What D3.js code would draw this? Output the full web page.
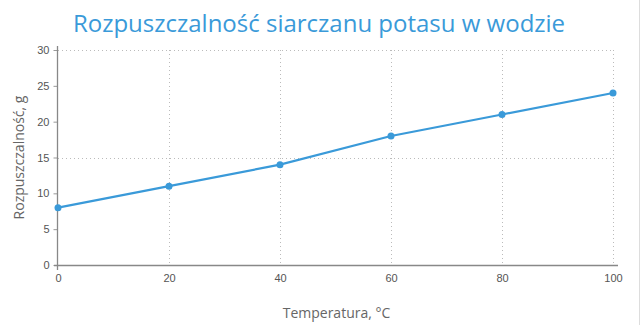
<!DOCTYPE html>
<html>
<head>
	<script src="https://cdn.jsdelivr.net/npm/d3@7"></script>
	<style>
		html, body { margin: 0; padding: 0; background: #fff; }
		svg { font-family: "Open Sans", sans-serif; display: block; }
	</style>
</head>
<body>
	<div id="chart"></div>
	<script>
		var temps = [0, 20, 40, 60, 80, 100];
		var solub = [8, 11, 14, 18, 21, 24];
		var yTicks = [0, 5, 10, 15, 20, 25, 30];
		var yGrid = [15, 30];
		var xGrid = [20, 40, 60, 80, 100];

		var width = 640, height = 325;
		var blue = "#3a9ad9";

		var svg = d3.select("#chart").append("svg")
			.attr("width", width)
			.attr("height", height);

		var x = d3.scaleLinear().domain([0, 100]).range([58, 613]);
		var y = d3.scaleLinear().domain([0, 30]).range([265, 50]);

		// right edge line
		svg.append("line")
			.attr("x1", 639.5).attr("x2", 639.5)
			.attr("y1", 0).attr("y2", height)
			.attr("stroke", "#ddd");

		// grid
		svg.selectAll(".hg").data(yGrid).enter().append("line")
			.attr("x1", x(0)).attr("x2", x(100))
			.attr("y1", function(d) { return Math.round(y(d)) + 0.5; })
			.attr("y2", function(d) { return Math.round(y(d)) + 0.5; })
			.attr("stroke", "#bbb").attr("stroke-dasharray", "1,3");
		svg.selectAll(".vg").data(xGrid).enter().append("line")
			.attr("x1", function(d) { return Math.round(x(d)) + 0.5; })
			.attr("x2", function(d) { return Math.round(x(d)) + 0.5; })
			.attr("y1", y(30)).attr("y2", y(0))
			.attr("stroke", "#bbb").attr("stroke-dasharray", "1,3");

		// axes
		var yAxis = svg.append("g")
			.attr("transform", "translate(" + (x(0) - 0.5) + ",0)")
			.call(d3.axisLeft(y).tickValues(yTicks).tickSize(4).tickPadding(4));
		yAxis.select(".domain").remove();
		yAxis.selectAll("line").attr("stroke", "#999");
		yAxis.selectAll("text").attr("fill", "#555").style("font-size", "11px");

		var xAxis = svg.append("g")
			.attr("transform", "translate(0," + (y(0) + 0.5) + ")")
			.call(d3.axisBottom(x).tickValues(temps).tickSize(0).tickPadding(9));
		xAxis.select(".domain").remove();
		xAxis.selectAll("text").attr("fill", "#555").style("font-size", "11px");

		svg.append("line")
			.attr("x1", x(0) - 0.5).attr("x2", x(0) - 0.5)
			.attr("y1", y(30) - 4).attr("y2", y(0) + 5)
			.attr("stroke", "#888").attr("stroke-width", 1.3);
		svg.append("line")
			.attr("x1", x(0) - 4).attr("x2", x(100) + 5)
			.attr("y1", y(0) + 0.5).attr("y2", y(0) + 0.5)
			.attr("stroke", "#888").attr("stroke-width", 1.3);

		// line + points
		var pts = temps.map(function(t, i) { return [t, solub[i]]; });
		svg.append("path")
			.datum(pts)
			.attr("fill", "none")
			.attr("stroke", blue)
			.attr("stroke-width", 2.2)
			.attr("d", d3.line()
				.x(function(d) { return x(d[0]); })
				.y(function(d) { return y(d[1]); }));
		svg.selectAll(".pt").data(pts).enter().append("circle")
			.attr("cx", function(d) { return x(d[0]); })
			.attr("cy", function(d) { return y(d[1]); })
			.attr("r", 3.5)
			.attr("fill", blue);

		// titles
		svg.append("text")
			.attr("x", 319).attr("y", 32)
			.attr("text-anchor", "middle")
			.attr("fill", blue)
			.style("font-size", "24px")
			.text("Rozpuszczalność siarczanu potasu w wodzie");

		svg.append("text")
			.attr("transform", "translate(24," + y(15) + ") rotate(-90)")
			.attr("text-anchor", "middle")
			.attr("fill", "#666")
			.style("font-size", "14px")
			.text("Rozpuszczalność, g");

		svg.append("text")
			.attr("x", x(50) + 1).attr("y", 318)
			.attr("text-anchor", "middle")
			.attr("fill", "#666")
			.style("font-size", "14px")
			.text("Temperatura, °C");
	</script>
</body>
</html>
